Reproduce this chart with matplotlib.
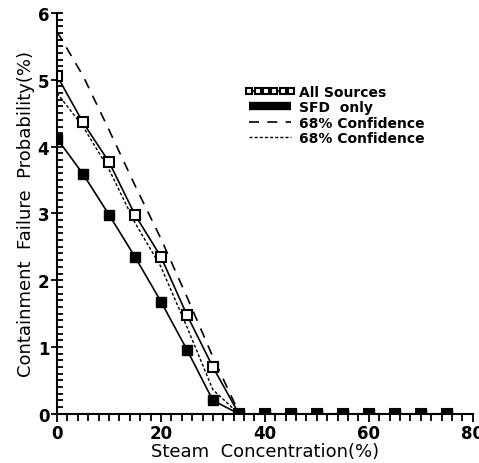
import numpy as np
import matplotlib
matplotlib.use("Agg")
import matplotlib.pyplot as plt
from matplotlib.lines import Line2D
from matplotlib.ticker import MultipleLocator

# steam concentration (%)
steam = [0, 5, 10, 15, 20, 25, 30, 35, 40, 45, 50, 55, 60, 65, 70, 75]
# failure probability (%)
all_sources = [5.06, 4.36, 3.77, 2.98, 2.35, 1.48, 0.70, 0.0, 0.0, 0.0, 0.0, 0.0, 0.0, 0.0, 0.0, 0.0]
sfd_only = [4.12, 3.59, 2.98, 2.35, 1.68, 0.96, 0.20, 0.0, 0.0, 0.0, 0.0, 0.0, 0.0, 0.0, 0.0, 0.0]

# 68% confidence bounds for all sources
conf_x = [0, 5, 10, 15, 20, 25, 30, 35]
conf_upper = [5.72, 5.06, 4.25, 3.42, 2.62, 1.75, 0.85, 0.02]
conf_lower = [4.80, 4.30, 3.66, 2.86, 2.20, 1.30, 0.36, 0.0]

plt.rcParams['font.family'] = ['DejaVu Sans']

fig = plt.figure(figsize=(4.79, 4.64), dpi=100)
ax = fig.add_axes([0.119, 0.106, 0.868, 0.864])

h_up, = ax.plot(conf_x, conf_upper, color='black', lw=1.2, linestyle=(0, (6, 5)))
h_lo, = ax.plot(conf_x, conf_lower, color='black', lw=1.0, linestyle=(0, (2.2, 1.5)))
h_all, = ax.plot(steam, all_sources, color='black', lw=1.2, marker='s', markersize=6.5,
                 markerfacecolor='white', markeredgecolor='black', markeredgewidth=1.5)
ax.plot(steam, sfd_only, color='black', lw=1.2, marker='s', markersize=6.5,
        markerfacecolor='black', markeredgecolor='black')

ax.set_xlim(0, 80)
ax.set_ylim(0, 6)
ax.spines['top'].set_visible(False)
ax.spines['right'].set_visible(False)
ax.spines['left'].set_linewidth(1.5)
ax.spines['bottom'].set_linewidth(1.5)

ax.xaxis.set_major_locator(MultipleLocator(20))
ax.xaxis.set_minor_locator(MultipleLocator(2))
ax.yaxis.set_major_locator(MultipleLocator(1))
ax.yaxis.set_minor_locator(MultipleLocator(0.1))
ax.tick_params(axis='x', which='major', direction='out', length=6, width=1.3,
               labelsize=12, pad=1)
ax.tick_params(axis='x', which='minor', direction='out', length=5, width=1.3)
ax.tick_params(axis='y', which='major', direction='inout', length=9, width=1.3,
               labelsize=12, pad=1)
ax.tick_params(axis='y', which='minor', direction='in', length=4, width=1.3)
for lbl in ax.get_xticklabels() + ax.get_yticklabels():
    lbl.set_fontweight('bold')

ax.set_xlabel('Steam  Concentration(%)', fontsize=13, labelpad=0)
ax.set_ylabel('Containment  Failure  Probability(%)', fontsize=13, labelpad=2)

# solid bar for the SFD entry, as in the original legend
h_sfd = Line2D([], [], color='black', lw=6, solid_capstyle='butt')

leg = ax.legend([h_all, h_sfd, h_up, h_lo],
                ['All Sources', 'SFD  only', '68% Confidence', '68% Confidence'],
                loc='upper left', bbox_to_anchor=(0.512, 0.815), bbox_transform=fig.transFigure,
                frameon=False, fontsize=10, handlelength=3.6, handletextpad=0.3,
                labelspacing=0.1, numpoints=6, markerscale=0.75, borderpad=0,
                borderaxespad=0)
for t in leg.get_texts():
    t.set_fontweight('bold')

fig.savefig('out.png', dpi=100)
